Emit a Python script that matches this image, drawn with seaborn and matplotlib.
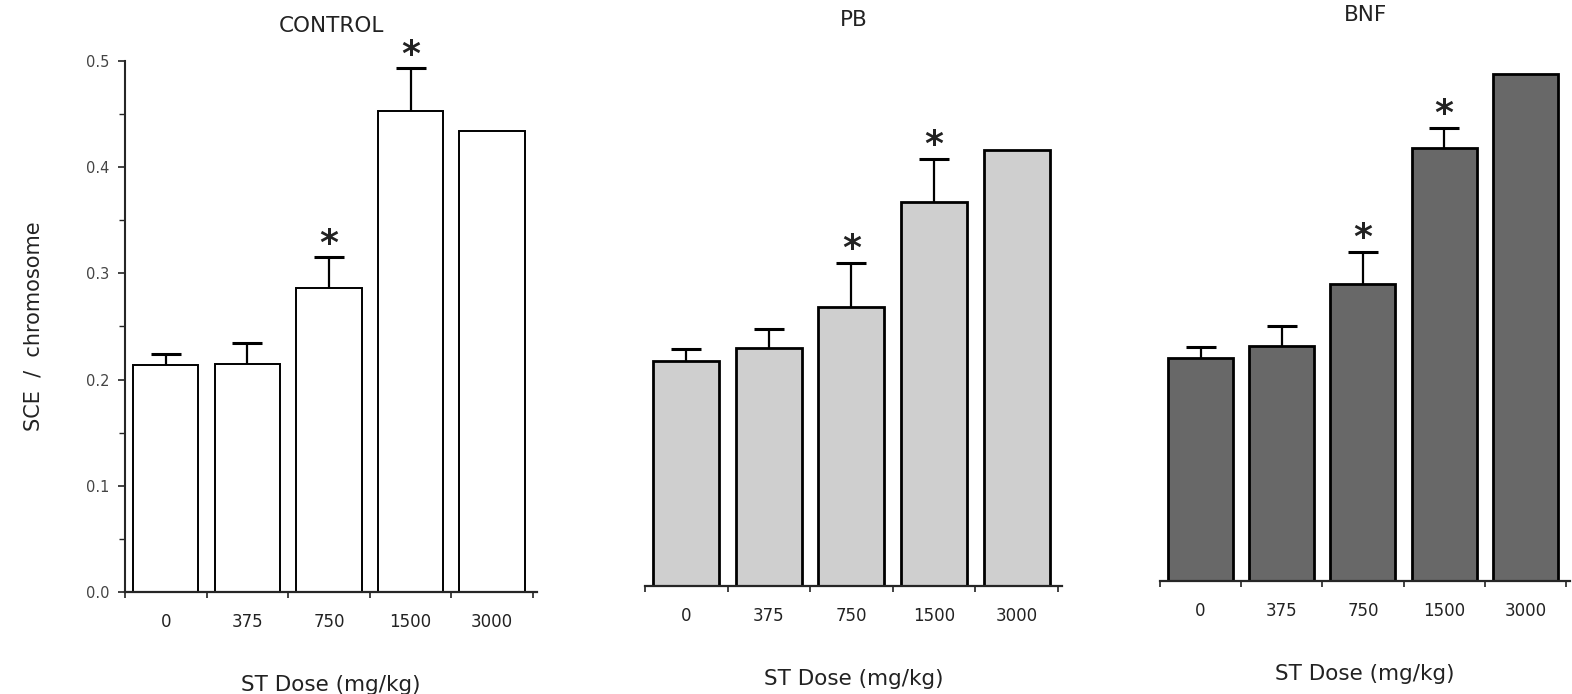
import numpy as np
import pandas as pd
import matplotlib
matplotlib.use("Agg")
import matplotlib.pyplot as plt
from matplotlib.ticker import MultipleLocator, FixedLocator
import seaborn as sns

# values
doses = ["0", "375", "750", "1500", "3000"]
panels = ["CONTROL", "PB", "BNF"]

control_mean = [0.214, 0.215, 0.286, 0.453, 0.434]
control_err = [0.010, 0.019, 0.029, 0.040, np.nan]
pb_mean = [0.212, 0.224, 0.263, 0.362, 0.411]
pb_err = [0.011, 0.018, 0.041, 0.040, np.nan]
bnf_mean = [0.210, 0.221, 0.280, 0.408, 0.477]
bnf_err = [0.010, 0.019, 0.030, 0.019, np.nan]

# which bars carry the significance star
control_star = [False, False, True, True, False]
pb_star = [False, False, True, True, False]
bnf_star = [False, False, True, True, False]

bar_colors = {"CONTROL": "#ffffff", "PB": "#cfcfcf", "BNF": "#686868"}

rows = []
for name, means, errs, stars in [("CONTROL", control_mean, control_err, control_star),
                                 ("PB", pb_mean, pb_err, pb_star),
                                 ("BNF", bnf_mean, bnf_err, bnf_star)]:
    for d, m, e, s in zip(doses, means, errs, stars):
        rows.append({"panel": name, "dose": d, "sce": m, "err": e, "star": s})
df = pd.DataFrame(rows)

sns.set_theme(style="ticks")
plt.rcParams["font.family"] = ["DejaVu Sans"]
plt.rcParams["text.color"] = "#222222"
plt.rcParams["axes.labelcolor"] = "#222222"
plt.rcParams["xtick.color"] = "#222222"
plt.rcParams["ytick.color"] = "#222222"

W, H = 1572, 694
fig = plt.figure(figsize=(W / 100, H / 100), dpi=100)

# axes boxes in pixels: left, baseline, right, top
boxes = {
    "CONTROL": (125, 592, 537, 61),
    "PB": (645, 586, 1062, 55),
    "BNF": (1160, 581, 1570, 50),
}
edge_lw = {"CONTROL": 1.4, "PB": 2.0, "BNF": 2.0}

for name in panels:
    l, b, r, t = boxes[name]
    ax = fig.add_axes([l / W, 1 - b / H, (r - l) / W, (b - t) / H])
    sub = df[df["panel"] == name]
    sns.barplot(data=sub, x="dose", y="sce", order=doses, color=bar_colors[name],
                edgecolor="black", linewidth=edge_lw[name], width=0.8, errorbar=None,
                saturation=1, ax=ax)
    xs = np.arange(len(doses))
    means = sub["sce"].to_numpy()
    errs = sub["err"].to_numpy()
    ok = ~np.isnan(errs)
    # upper-only error bars: stem + top cap
    _, caps, _ = ax.errorbar(xs[ok], means[ok],
                             yerr=[np.zeros(ok.sum()), errs[ok]],
                             fmt="none", ecolor="black", elinewidth=1.6, capsize=11,
                             capthick=2.2, zorder=3)
    caps[0].remove()  # drop the cap that sits on the bar top
    for x, m, e, s in zip(xs, means, errs, sub["star"]):
        if s:
            ax.annotate("*", xy=(x, m + e), xytext=(0, 10), textcoords="offset points",
                        ha="center", va="center", fontsize=26, fontweight="bold",
                        color="#222222", annotation_clip=False)

    ax.set_xlim(-0.5, 4.55)
    ax.set_ylim(0, 0.5)
    ax.set_title(name, fontsize=15.5, pad=21)
    ax.set_xlabel("ST Dose (mg/kg)", fontsize=15.5, labelpad=32)
    ax.tick_params(axis="x", which="major", length=0, pad=15, labelsize=12)
    ax.xaxis.set_minor_locator(FixedLocator(np.arange(-0.5, 5, 1.0)))
    ax.tick_params(axis="x", which="minor", length=4, width=1.2, direction="out")
    sns.despine(ax=ax, top=True, right=True, left=(name != "CONTROL"))
    ax.spines["bottom"].set_linewidth(1.6)

    if name == "CONTROL":
        ax.yaxis.set_major_locator(MultipleLocator(0.1))
        ax.yaxis.set_minor_locator(MultipleLocator(0.05))
        ax.set_yticklabels([f"{v:.1f}" for v in ax.get_yticks()])
        ax.tick_params(axis="y", which="major", length=5, width=1.2, labelsize=10.5,
                       pad=6, labelcolor="#444444")
        ax.tick_params(axis="y", which="minor", length=4, width=1.0)
        ax.spines["left"].set_linewidth(1.5)
        ax.set_ylabel("SCE  /  chromosome", fontsize=15, labelpad=31)
    else:
        ax.set_yticks([])
        ax.set_ylabel("")

fig.savefig("out.png", dpi=100)
